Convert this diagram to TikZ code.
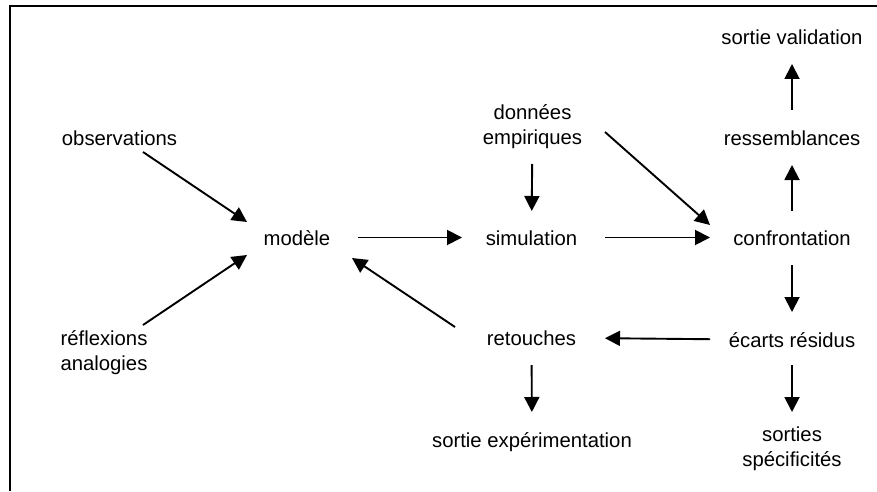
\documentclass[tikz,border=0pt]{standalone}
\usepackage{fontspec}
\setmainfont{Liberation Sans}
\usepackage{tikz}
\usetikzlibrary{arrows.meta}
\tikzset{
  lbl/.style={inner sep=0pt, text height=15pt, text depth=0pt},
  lbls/.style={inner sep=0pt, align=center},
  arr/.style={-{Triangle[length=15pt,width=15pt]}, line width=1.9pt},
  frameline/.style={line width=1.6pt}
}
\begin{document}
\begin{tikzpicture}[x=1pt,y=1pt,font=\fontsize{20.3}{25}\selectfont]
\useasboundingbox (0,0) rectangle (877,491);
\draw[frameline] (10,0)--(10,485)--(877,485);
\node[lbl] (obs) at (119.5,353.5) {observations};
\node[lbls] (refl) at (104,138.5) {réflexions\\analogies};
\node[lbl] (mod) at (297,253.5) {modèle};
\node[lbls] (don) at (532.5,364) {données\\empiriques};
\node[lbl] (sim) at (531.5,253.5) {simulation};
\node[lbl] (ret) at (531.5,153.5) {retouches};
\node[lbl] (sexp) at (532,51.5) {sortie expérimentation};
\node[lbl] (val) at (792,453.5) {sortie validation};
\node[lbl] (ress) at (792,353) {ressemblances};
\node[lbl] (conf) at (792,253.5) {confrontation};
\node[lbl] (ecr) at (792,151) {écarts résidus};
\node[lbls] (spec) at (792,42) {sorties\\spécificités};
\draw[arr] ([shift={(23.5,-14.5)}]obs.center)--([shift={(-50,15.5)}]mod.center);
\draw[arr] ([shift={(39,27.5)}]refl.center)--([shift={(-50,-17.5)}]mod.center);
\draw[arr] ([shift={(-76.5,10.5)}]ret.center)--([shift={(55,-20.5)}]mod.center);
\draw[arr] ([shift={(72.5,-5)}]don.center)--([shift={(-82,12.5)}]conf.center);
\draw[arr, shorten <=61pt, shorten >=69.5pt] (mod.center)--(sim.center);
\draw[arr, shorten <=73.5pt, shorten >=82pt] (sim.center)--(conf.center);
\draw[arr, shorten <=37pt, shorten >=26.5pt] (don.center)--(sim.center);
\draw[arr, shorten <=26.5pt, shorten >=27pt] (conf.center)--(ress.center);
\draw[arr, shorten <=28pt, shorten >=26.5pt] (ress.center)--(val.center);
\draw[arr, shorten <=27.5pt, shorten >=28pt] (conf.center)--(ecr.center);
\draw[arr, shorten <=25pt, shorten >=37pt] (ecr.center)--(spec.center);
\draw[arr, shorten <=82pt, shorten >=73.5pt] (ecr.center)--(ret.center);
\draw[arr, shorten <=27.5pt, shorten >=27.5pt] (ret.center)--(sexp.center);
\end{tikzpicture}
\end{document}
